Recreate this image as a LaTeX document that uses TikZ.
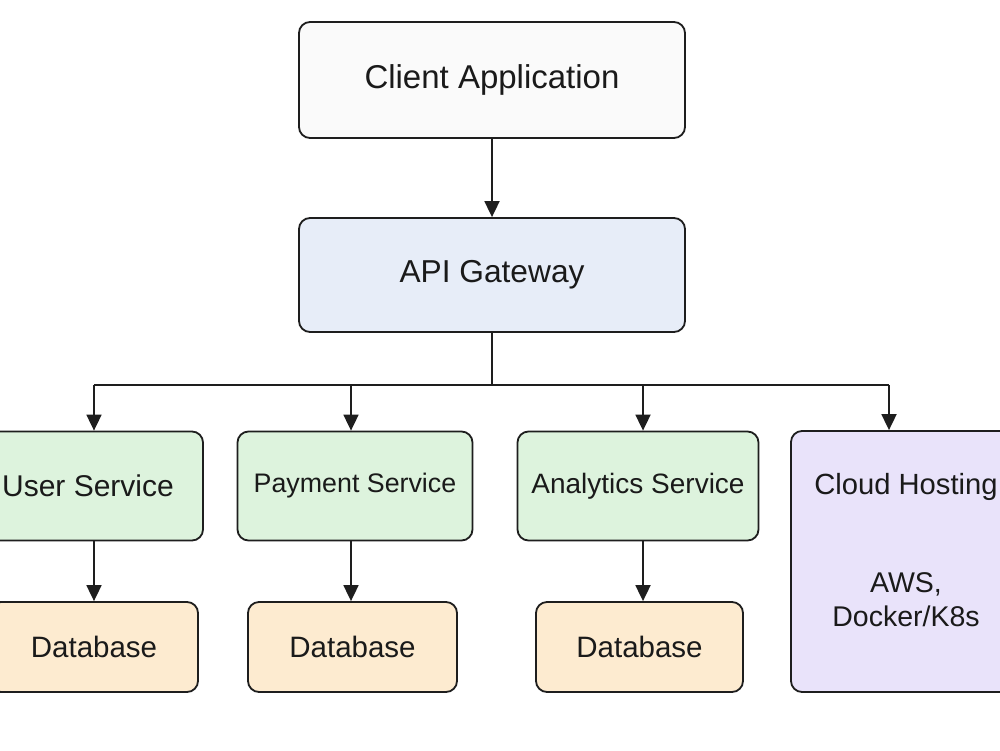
\documentclass[tikz,border=0pt]{standalone}
\usepackage{fontspec}
\setmainfont{Liberation Sans}
\usetikzlibrary{arrows.meta}
\definecolor{edge}{HTML}{1E1E1E}
\definecolor{txt}{HTML}{1A1A1A}
\definecolor{clientfill}{HTML}{FAFAFA}
\definecolor{apifill}{HTML}{E7EDF8}
\definecolor{svcfill}{HTML}{DDF3DD}
\definecolor{dbfill}{HTML}{FDEBD0}
\definecolor{cloudfill}{HTML}{E9E3FA}
\begin{document}
\begin{tikzpicture}[x=1pt,y=-1pt,
  box/.style={draw=edge, line width=1.8pt, rounded corners=11pt, inner sep=0pt, text=txt},
  lbl/.style={inner sep=0pt, text=txt, align=center},
  arr/.style={draw=edge, line width=1.8pt, -{Triangle[length=16pt,width=15pt]}},
  wire/.style={draw=edge, line width=1.8pt}]
\clip (0,0) rectangle (1000,750);
\fill[white] (0,0) rectangle (1000,750);

\node[box, fill=clientfill, minimum width=386pt, minimum height=116pt, font=\fontsize{33}{38}\selectfont] (client) at (492,80) {Client Application};
\node[box, fill=apifill, minimum width=386pt, minimum height=114pt, font=\fontsize{31.7}{38}\selectfont] (api) at (492,275) {API Gateway};

\node[box, fill=svcfill, minimum width=230pt, minimum height=109pt, font=\fontsize{30}{36}\selectfont] (user) at (88,486) {User Service};
\node[box, fill=svcfill, minimum width=235pt, minimum height=109pt, font=\fontsize{26.8}{34}\selectfont] (pay) at (355,486) {Payment Service};
\node[box, fill=svcfill, minimum width=241pt, minimum height=109pt, font=\fontsize{28}{34}\selectfont] (ana) at (638,486) {Analytics Service};

\node[box, fill=dbfill, minimum width=208pt, minimum height=90pt, font=\fontsize{29.5}{34}\selectfont] (db1) at (94,647) {Database};
\node[box, fill=dbfill, minimum width=209pt, minimum height=90pt, font=\fontsize{29.5}{34}\selectfont] (db2) at (352.5,647) {Database};
\node[box, fill=dbfill, minimum width=207pt, minimum height=90pt, font=\fontsize{29.5}{34}\selectfont] (db3) at (639.5,647) {Database};

\node[box, fill=cloudfill, minimum width=228pt, minimum height=261pt] (cloud) at (905,561.5) {};
\node[lbl, font=\fontsize{29.2}{34}\selectfont] (cloudt) at (906,487) {Cloud Hosting};
\node[lbl, font=\fontsize{28.5}{34}\selectfont] (cloudd) at (906,600) {AWS,\\Docker/K8s};

\coordinate (bus) at (492,385);
\coordinate (b1) at (94,385);
\coordinate (b2) at (351,385);
\coordinate (b3) at (643,385);
\coordinate (b4) at (889,385);

\draw[arr] (client.south) -- (api.north);
\draw[wire] (api.south) -- (bus);
\draw[wire] (b1) -- (b4);
\draw[arr] (b1) -- (b1 |- user.north);
\draw[arr] (b2) -- (b2 |- pay.north);
\draw[arr] (b3) -- (b3 |- ana.north);
\draw[arr] (b4) -- (b4 |- cloud.north);

\draw[arr] (user.south -| b1) -- (b1 |- db1.north);
\draw[arr] (pay.south -| b2) -- (b2 |- db2.north);
\draw[arr] (ana.south -| b3) -- (b3 |- db3.north);
\end{tikzpicture}
\end{document}
